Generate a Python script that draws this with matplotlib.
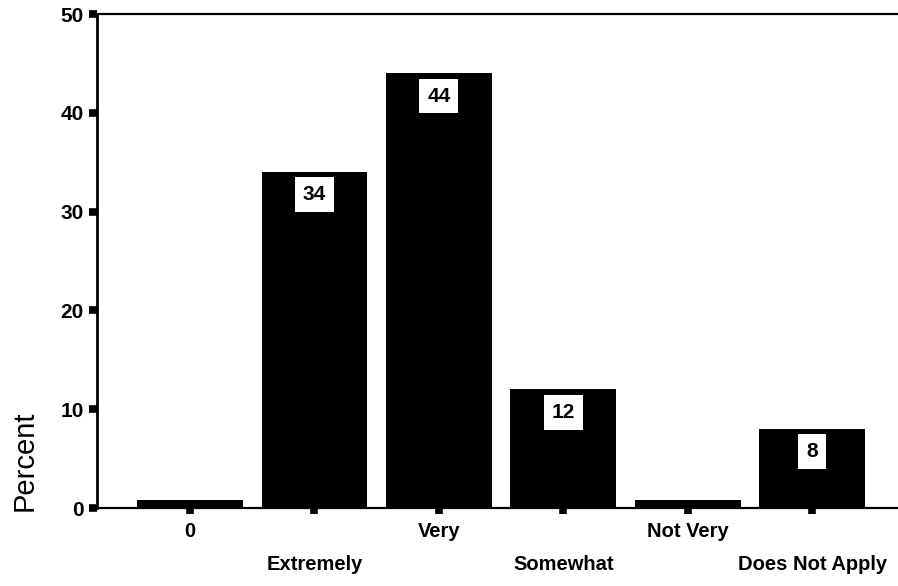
import matplotlib
matplotlib.use("Agg")
import matplotlib.pyplot as plt

categories = ["0", "Extremely", "Very", "Somewhat", "Not Very", "Does Not Apply"]
percent = [0.8, 34, 44, 12, 0.8, 8]
labelled = [False, True, True, True, False, True]

plt.rcParams['font.family'] = ['Liberation Sans', 'DejaVu Sans']

fig = plt.figure(figsize=(8.98, 5.86), dpi=100)
ax = fig.add_axes([0.108, 0.1331, 0.892, 0.843])

x = list(range(len(categories)))
ax.bar(x, percent, width=0.85, color='black', zorder=2)

for xi, v, show in zip(x, percent, labelled):
    if show:
        ax.text(xi, v - 2.3, f"{v:g}", ha='center', va='center',
                fontsize=15, fontweight='bold', zorder=3,
                bbox=dict(boxstyle='square,pad=0.38', fc='white', ec='none'))

ax.set_xlim(-0.748, 5.69)
ax.set_ylim(0, 50)
ax.set_yticks([0, 10, 20, 30, 40, 50])

# every second category label goes on a lower row
xlabels = [c if i % 2 == 0 else "\n" + c for i, c in enumerate(categories)]
ax.set_xticks(x, xlabels)
for lab in ax.get_xticklabels():
    lab.set_linespacing(1.95)

ax.tick_params(axis='y', direction='out', length=5.5, width=5.5, pad=4,
               labelsize=15)
ax.tick_params(axis='x', direction='out', length=4.5, width=5.5, pad=5.5,
               labelsize=14.5)
for lab in ax.get_yticklabels() + ax.get_xticklabels():
    lab.set_fontweight('bold')

ax.spines['right'].set_visible(False)
ax.spines['left'].set_linewidth(2)
ax.spines['top'].set_linewidth(1.6)
ax.spines['bottom'].set_linewidth(1.6)
for s in ax.spines.values():
    s.set_zorder(4)

ax.set_ylabel("Percent", fontsize=21, va='center')
ax.yaxis.set_label_coords(-0.0904, 0.095)

fig.savefig("out.png", dpi=100)
